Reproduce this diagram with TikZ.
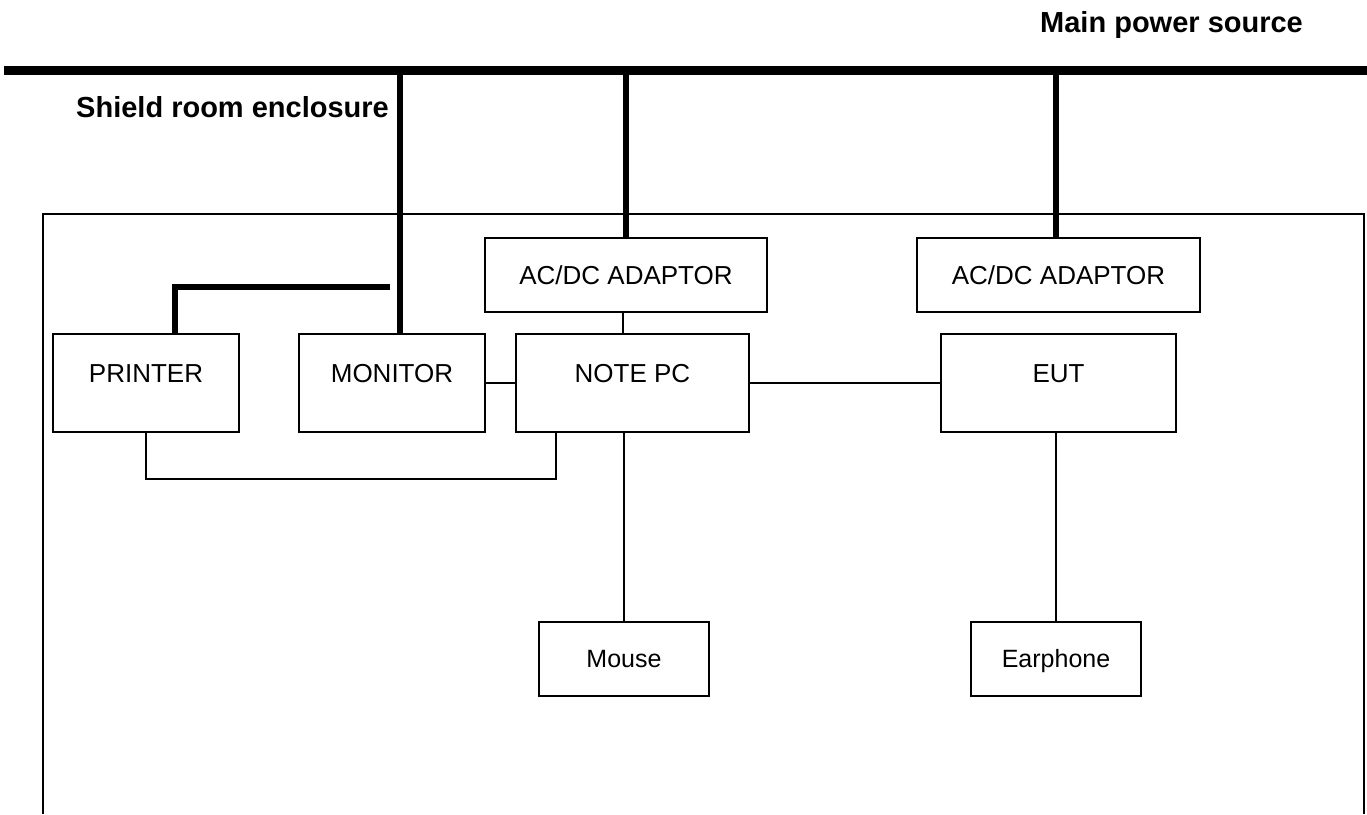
\documentclass[tikz,border=0pt]{standalone}
\usepackage{fontspec}
\setmainfont{Liberation Sans}
\usetikzlibrary{calc}
\begin{document}
\begin{tikzpicture}[x=1pt,y=-1pt,
  thin line/.style={line width=1.8pt},
  bus line/.style={line width=9pt},
  drop line/.style={line width=6.5pt},
  unitbox/.style={draw,line width=1.8pt,inner sep=0pt,minimum height=98pt,
    text height=19pt,text depth=21pt,font=\fontsize{26}{30}\selectfont},
  adaptbox/.style={draw,line width=1.8pt,inner sep=0pt,minimum height=74pt,
    text height=19pt,text depth=0pt,font=\fontsize{26}{30}\selectfont},
  smallbox/.style={draw,line width=1.8pt,inner sep=0pt,minimum height=74pt,
    text height=17pt,text depth=0pt,font=\fontsize{25}{30}\selectfont},
  title/.style={font=\fontsize{29}{34}\selectfont\bfseries,inner sep=0pt}]
\useasboundingbox (0,0) rectangle (1367,814);

% titles
\node[title,anchor=base west] (mps) at (1040,32) {Main power source};
\node[title,anchor=base west] (sre) at (76,117) {Shield room enclosure};

% shield room enclosure outline
\coordinate (encbl) at (43,814);
\coordinate (enctl) at (43,214);
\coordinate (enctr) at (1364,214);
\coordinate (encbr) at (1364,814);
\draw[line width=2.2pt] (encbl) -- (enctl) -- (enctr) -- (encbr);

% boxes
\node[adaptbox,minimum width=282pt] (ad1) at (626,275) {AC/DC ADAPTOR};
\node[adaptbox,minimum width=283pt] (ad2) at (1058.5,275) {AC/DC ADAPTOR};
\node[unitbox,minimum width=186pt] (printer) at (146,383) {PRINTER};
\node[unitbox,minimum width=186pt] (monitor) at (392,383) {MONITOR};
\node[unitbox,minimum width=233pt] (notepc) at (632.5,383) {NOTE PC};
\node[unitbox,minimum width=235pt] (eut) at (1058.5,383) {EUT};
\node[smallbox,minimum width=170pt] (mouse) at (624,659) {Mouse};
\node[smallbox,minimum width=170pt] (earphone) at (1056,659) {Earphone};

% main power bus
\coordinate (busL) at (4,70);
\coordinate (busR) at (1370,70);
\draw[bus line] (busL) -- (busR);

% power drops
\coordinate (d1) at (400,70);
\draw[drop line] (d1) -- (d1 |- monitor.north);
\draw[drop line] (ad1.north) -- (ad1.north |- busL);
\coordinate (d3) at (1056,70);
\draw[drop line] (d3) -- (d3 |- ad2.north);
\coordinate (pbr) at (390,287);
\coordinate (pdn) at (175,287);
\draw[drop line] (pbr) -- (pdn) -- (pdn |- printer.north);

% signal connections
\coordinate (a1) at (623,312);
\draw[thin line] (a1) -- (a1 |- notepc.north);
\draw[thin line] (ad2.south) -- (ad2.south -| eut.north) ;
\draw[thin line] (monitor.east) -- (notepc.west);
\draw[thin line] (notepc.east) -- (eut.west);
\coordinate (pc1) at ($(notepc.south west)+(41,0)$);
\draw[thin line] (printer.south) -- ++(0,46) -| (pc1);
\draw[thin line] (mouse.north) -- (mouse.north |- notepc.south);
\draw[thin line] (earphone.north) -- (earphone.north |- eut.south);
\end{tikzpicture}
\end{document}
